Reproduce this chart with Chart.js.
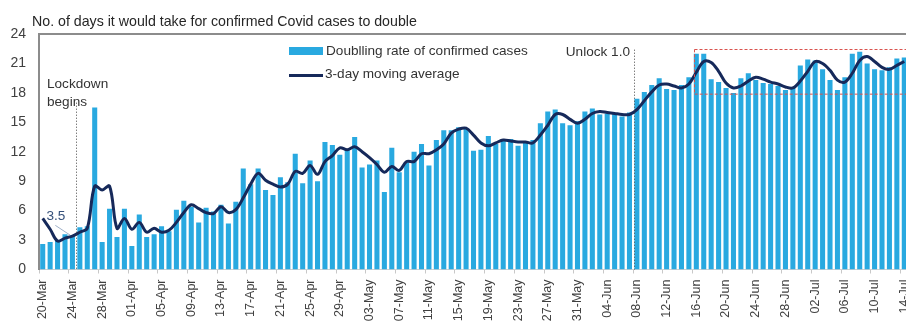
<!DOCTYPE html>
<html>
<head>
<meta charset="utf-8">
<script src="https://cdn.jsdelivr.net/npm/chart.js@4.4.1/dist/chart.umd.min.js"></script>
<style>
  body { margin: 0; background: #fff; overflow: hidden; }
  #wrap { position: relative; width: 906px; height: 322px; overflow: hidden; }
  canvas { display: block; }
  .txt { position: absolute; font-family: "Liberation Sans", Arial, sans-serif; line-height: 1; white-space: nowrap; color: #333; }
  .swatch { position: absolute; }
</style>
</head>
<body>
<div id="wrap">
  <canvas id="chart" width="908" height="322"></canvas>
  <div class="txt" style="left:32px; top:14px; font-size:14.2px; color:#262626">No. of days it would take for confirmed Covid cases to double</div>
  <div class="swatch" style="left:289px; top:47px; width:34px; height:8px; background:#29a9e0"></div>
  <div class="txt" style="left:326px; top:43.5px; font-size:13.6px">Doublling rate of confirmed cases</div>
  <div class="swatch" style="left:289px; top:73.5px; width:34px; height:3px; background:#16295a"></div>
  <div class="txt" style="left:325px; top:66.5px; font-size:13.6px">3-day moving average</div>
  <div class="txt" style="right:276px; top:45px; font-size:13.6px">Unlock 1.0</div>
  <div class="txt" style="left:47px; top:76.5px; font-size:13.6px">Lockdown</div>
  <div class="txt" style="left:47px; top:95px; font-size:13.6px">begins</div>
  <div class="txt" style="left:46.5px; top:208.5px; font-size:13.6px; color:#35507a">3.5</div>
</div>
<script>
// days from 20-Mar to 14-Jul
const categories = [
  '20-Mar','21-Mar','22-Mar','23-Mar','24-Mar','25-Mar','26-Mar','27-Mar','28-Mar','29-Mar','30-Mar','31-Mar',
  '01-Apr','02-Apr','03-Apr','04-Apr','05-Apr','06-Apr','07-Apr','08-Apr','09-Apr','10-Apr',
  '11-Apr','12-Apr','13-Apr','14-Apr','15-Apr','16-Apr','17-Apr','18-Apr','19-Apr','20-Apr',
  '21-Apr','22-Apr','23-Apr','24-Apr','25-Apr','26-Apr','27-Apr','28-Apr','29-Apr','30-Apr',
  '01-May','02-May','03-May','04-May','05-May','06-May','07-May','08-May','09-May','10-May',
  '11-May','12-May','13-May','14-May','15-May','16-May','17-May','18-May','19-May','20-May',
  '21-May','22-May','23-May','24-May','25-May','26-May','27-May','28-May','29-May','30-May','31-May',
  '01-Jun','02-Jun','03-Jun','04-Jun','05-Jun','06-Jun','07-Jun','08-Jun','09-Jun','10-Jun',
  '11-Jun','12-Jun','13-Jun','14-Jun','15-Jun','16-Jun','17-Jun','18-Jun','19-Jun','20-Jun',
  '21-Jun','22-Jun','23-Jun','24-Jun','25-Jun','26-Jun','27-Jun','28-Jun','29-Jun','30-Jun',
  '01-Jul','02-Jul','03-Jul','04-Jul','05-Jul','06-Jul','07-Jul','08-Jul','09-Jul','10-Jul',
  '11-Jul','12-Jul','13-Jul','14-Jul'
];

const tickLabels = [
  '20-Mar','24-Mar','28-Mar','01-Apr','05-Apr','09-Apr','13-Apr','17-Apr','21-Apr','25-Apr',
  '29-Apr','03-May','07-May','11-May','15-May','19-May','23-May','27-May','31-May','04-Jun',
  '08-Jun','12-Jun','16-Jun','20-Jun','24-Jun','28-Jun','02-Jul','06-Jul','10-Jul','14-Jul'
];

const doublingRate = [
  2.6, 2.8, 3.0, 3.6, 3.5, 4.3, 4.4, 16.5, 2.8, 6.2,
  3.3, 6.2, 2.4, 5.6, 3.3, 3.6, 4.4, 3.9, 6.1, 7.0,
  6.4, 4.8, 6.3, 5.9, 6.6, 4.7, 6.9, 10.3, 8.7, 10.3,
  8.1, 7.6, 9.4, 8.9, 11.8, 8.8, 11.1, 9.0, 13.0, 12.7,
  11.7, 12.2, 13.5, 10.4, 10.7, 11.1, 7.9, 12.4, 9.9, 10.9,
  12.0, 12.8, 10.6, 13.2, 14.2, 14.2, 14.5, 14.4, 12.1, 12.2,
  13.6, 12.8, 13.2, 13.3, 12.6, 13.0, 13.2, 14.9, 16.1, 16.3,
  14.9, 14.7, 15.1, 16.1, 16.4, 15.8, 15.9, 15.9, 15.6, 16.0,
  17.4, 18.1, 18.8, 19.5, 18.4, 18.3, 18.8, 19.6, 22.0, 22.0,
  19.4, 19.1, 18.5, 18.0, 19.5, 20.0, 19.3, 19.0, 18.9, 18.7,
  18.3, 18.5, 20.8, 21.4, 21.3, 20.4, 19.3, 18.3, 19.6, 22.0,
  22.2, 21.0, 20.4, 20.3, 20.6, 21.5, 21.6
];

const movingAverage = [
  5.2, 4.1, 2.9, 3.2, 3.4, 3.8, 4.2, 8.5, 8.1, 8.5,
  4.2, 5.2, 4.1, 4.8, 3.8, 4.2, 3.8, 4.0, 4.8, 5.8,
  6.6, 6.2, 5.8, 5.7, 6.4, 5.8, 6.1, 7.3, 8.7, 9.8,
  9.1, 8.7, 8.4, 8.7, 10.0, 9.8, 10.6, 9.7, 11.0, 11.6,
  12.4, 12.2, 12.5, 12.0, 11.4, 10.7, 9.9, 10.5, 10.1, 11.0,
  11.0, 11.8, 11.8, 12.2, 12.8, 13.9, 14.3, 14.4, 13.7, 12.9,
  12.6, 12.9, 13.2, 13.1, 13.0, 13.0, 12.9, 13.7, 14.7, 15.8,
  15.8, 15.3, 14.9, 15.3, 15.9, 16.1, 16.0, 15.9, 15.8, 15.8,
  16.3, 17.2, 18.1, 18.8, 18.9, 18.7, 18.5, 18.9, 20.1, 21.2,
  21.1, 20.2, 19.0, 18.5, 18.7, 19.2, 19.6, 19.4, 19.1, 18.9,
  18.6, 18.5, 19.2, 20.2, 21.2, 21.0, 20.3, 19.3, 19.1, 20.0,
  21.3, 21.7, 21.2, 20.6, 20.4, 20.8, 21.2
];

// annotation anchors, in axis units (category index / days)
const lockdownAt = 4.5, lockdownTop = 17.0;
const unlockAt = 79.6, unlockTop = 22.4;
const boxLeft = 87.65, boxTop = 22.45, boxBottom = 17.9;
const leaderFrom = [1.7, 4.5], leaderTo = [3.7, 3.5];

const BLUE = '#29a9e0';
const NAVY = '#16295a';
const FONT = 'Liberation Sans, Arial, sans-serif';

const annotations = {
  id: 'annotations',
  afterDatasetsDraw(chart) {
    const { ctx, chartArea: a, scales: { x, y } } = chart;
    ctx.save();

    // top frame line
    ctx.strokeStyle = '#8c8c8c';
    ctx.lineWidth = 2;
    ctx.beginPath();
    ctx.moveTo(a.left, a.top);
    ctx.lineTo(a.right, a.top);
    ctx.stroke();

    // dotted event lines
    ctx.strokeStyle = '#444';
    ctx.lineWidth = 1;
    ctx.setLineDash([1, 2]);
    [[lockdownAt, lockdownTop], [unlockAt, unlockTop]].forEach(([at, top]) => {
      const px = Math.round(x.getPixelForValue(at)) + 0.5;
      ctx.beginPath();
      ctx.moveTo(px, y.getPixelForValue(top));
      ctx.lineTo(px, y.getPixelForValue(0));
      ctx.stroke();
    });

    // red dashed box
    ctx.strokeStyle = '#d9534f';
    ctx.setLineDash([3, 2]);
    const bx = x.getPixelForValue(boxLeft);
    const by1 = y.getPixelForValue(boxTop);
    const by2 = y.getPixelForValue(boxBottom);
    ctx.strokeRect(Math.round(bx) + 0.5, Math.round(by1) + 0.5, a.right + 10 - bx, by2 - by1);

    // leader for the 3.5 label
    ctx.setLineDash([]);
    ctx.strokeStyle = '#9fb0c8';
    ctx.beginPath();
    ctx.moveTo(x.getPixelForValue(leaderFrom[0]), y.getPixelForValue(leaderFrom[1]));
    ctx.lineTo(x.getPixelForValue(leaderTo[0]), y.getPixelForValue(leaderTo[1]));
    ctx.stroke();

    ctx.restore();
  }
};

new Chart(document.getElementById('chart'), {
  type: 'bar',
  data: {
    labels: categories,
    datasets: [
      {
        type: 'line',
        label: '3-day moving average',
        data: movingAverage,
        borderColor: NAVY,
        borderWidth: 3,
        pointRadius: 0,
        tension: 0.35,
        order: 0
      },
      {
        type: 'bar',
        label: 'Doublling rate of confirmed cases',
        data: doublingRate,
        backgroundColor: BLUE,
        barPercentage: 0.68,
        categoryPercentage: 1,
        order: 1
      }
    ]
  },
  options: {
    responsive: false,
    animation: false,
    layout: { padding: { top: 34, left: 0, right: 0, bottom: 0 }, autoPadding: false },
    plugins: { legend: { display: false }, tooltip: { enabled: false } },
    scales: {
      x: {
        // fixed band under the plot; no extra side padding for rotated labels
        afterFit: s => { s.height = 52.5; s.paddingLeft = 0; s.paddingRight = 0; },
        grid: {
          drawOnChartArea: false,
          drawTicks: true,
          tickLength: 4,
          offset: true,
          color: c => (c.index % 4 === 0 ? '#c8c8c8' : 'rgba(0,0,0,0)')
        },
        border: { display: true, color: '#d0d0d0', width: 1 },
        ticks: {
          autoSkip: false,
          minRotation: 90,
          maxRotation: 90,
          padding: 6,
          color: '#404040',
          font: { family: FONT, size: 12.5 },
          callback: (v, i) => (tickLabels.includes(categories[i]) ? categories[i] : '')
        }
      },
      y: {
        min: 0,
        max: 24,
        afterFit: s => { s.width = 39; },
        grid: { display: false, drawTicks: false },
        border: { display: true, color: '#8c8c8c', width: 2 },
        ticks: {
          stepSize: 3,
          padding: 13,
          color: '#404040',
          font: { family: FONT, size: 14 }
        }
      }
    }
  },
  plugins: [annotations]
});
</script>
</body>
</html>
